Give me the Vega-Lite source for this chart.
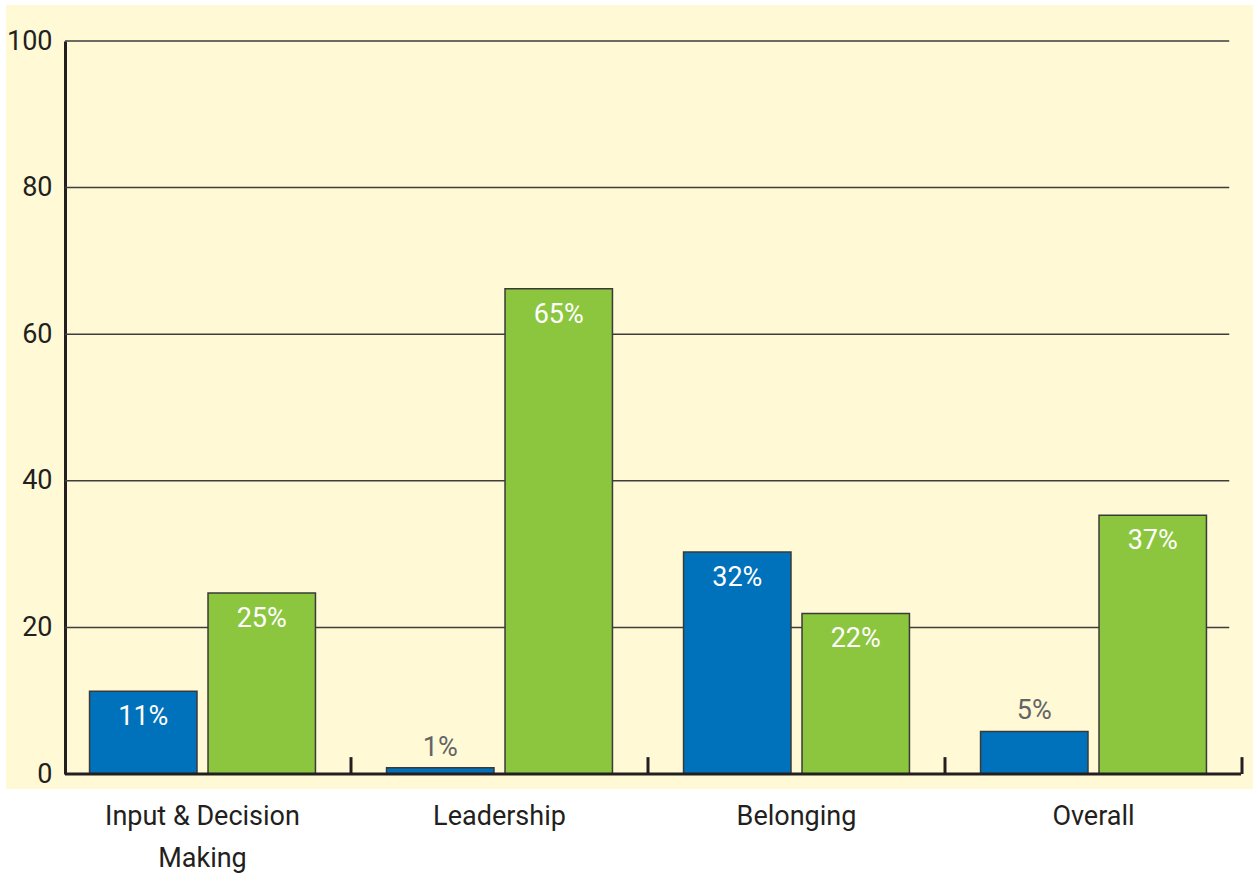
{
  "$schema": "https://vega.github.io/schema/vega-lite/v6.json",
  "width": 1247,
  "height": 784,
  "autosize": {"type": "none"},
  "padding": {"left": 6, "top": 5, "right": 0, "bottom": 84},
  "background": "#ffffff",
  "config": {
    "view": {"fill": "#FFF9D6", "stroke": null},
    "font": "Roboto",
    "axis": {"labelFont": "Roboto"},
    "text": {"font": "Roboto"}
  },
  "datasets": {
    "bars": [
      {"category": "Input & Decision Making", "series": "Series 1", "value": 11.3, "label": "11%"},
      {"category": "Input & Decision Making", "series": "Series 2", "value": 24.7, "label": "25%"},
      {"category": "Leadership", "series": "Series 1", "value": 0.85, "label": "1%"},
      {"category": "Leadership", "series": "Series 2", "value": 66.2, "label": "65%"},
      {"category": "Belonging", "series": "Series 1", "value": 30.3, "label": "32%"},
      {"category": "Belonging", "series": "Series 2", "value": 21.9, "label": "22%"},
      {"category": "Overall", "series": "Series 1", "value": 5.8, "label": "5%"},
      {"category": "Overall", "series": "Series 2", "value": 35.3, "label": "37%"}
    ],
    "grid": [{"level": 20}, {"level": 40}, {"level": 60}, {"level": 80}, {"level": 100}],
    "base": [{"level": 0}],
    "cats": [
      {"category": "Input & Decision Making"},
      {"category": "Leadership"},
      {"category": "Belonging"},
      {"category": "Overall"}
    ]
  },
  "resolve": {"scale": {"x": "independent"}, "axis": {"x": "independent"}},
  "layer": [
    {
      "data": {"name": "grid"},
      "mark": {"type": "rule", "stroke": "#3d3d3d", "strokeWidth": 1.5},
      "encoding": {
        "y": {
          "field": "level", "type": "quantitative",
          "scale": {"domain": [0, 100], "range": [769, 36], "zero": true, "nice": false},
          "axis": {
            "title": null, "values": [0, 20, 40, 60, 80, 100], "grid": false, "ticks": false,
            "domainColor": "#231f20", "domainWidth": 3, "offset": -59,
            "labelFontSize": 27, "labelColor": "#231f20", "labelPadding": 13
          }
        },
        "x": {"datum": 0, "type": "quantitative", "scale": {"domain": [0, 100], "range": [59, 1235]}, "axis": null},
        "x2": {"datum": 99}
      }
    },
    {
      "layer": [
        {
          "data": {"name": "bars"},
          "mark": {"type": "bar", "stroke": "#3a3a3a", "strokeWidth": 1.5},
          "encoding": {
            "x": {
              "field": "category", "type": "nominal", "sort": null,
              "scale": {"domain": ["Input & Decision Making", "Leadership", "Belonging", "Overall"], "range": [48, 1236], "paddingInner": 0, "paddingOuter": 0},
              "axis": {
                "title": null, "domain": false, "ticks": false, "labelAngle": 0,
                "labelFontSize": 27, "labelColor": "#231f20", "labelPadding": 14, "labelLineHeight": 42, "labelLimit": 500,
                "labelExpr": "datum.value == 'Input & Decision Making' ? ['Input & Decision', 'Making'] : datum.value"
              }
            },
            "xOffset": {"field": "series", "type": "nominal", "scale": {"domain": ["Series 1", "Series 2"], "paddingInner": 0.093, "paddingOuter": 0.3}},
            "y": {"field": "value", "type": "quantitative"},
            "color": {"field": "series", "type": "nominal", "scale": {"domain": ["Series 1", "Series 2"], "range": ["#0071BB", "#8CC63F"]}, "legend": null}
          }
        },
        {
          "data": {"name": "cats"},
          "mark": {"type": "rule", "stroke": "#231f20", "strokeWidth": 3},
          "encoding": {
            "x": {"field": "category", "type": "nominal", "sort": null, "bandPosition": 1},
            "y": {"datum": 0, "type": "quantitative"},
            "y2": {"datum": 2.3}
          }
        },
        {
          "data": {"name": "bars"},
          "transform": [{"filter": "datum.value > 8"}],
          "mark": {"type": "text", "fontSize": 27, "color": "#ffffff", "baseline": "top", "dy": 13, "align": "center"},
          "encoding": {
            "x": {"field": "category", "type": "nominal", "sort": null},
            "xOffset": {"field": "series", "type": "nominal"},
            "y": {"field": "value", "type": "quantitative"},
            "text": {"field": "label"}
          }
        },
        {
          "data": {"name": "bars"},
          "transform": [{"filter": "datum.value <= 8"}],
          "mark": {"type": "text", "fontSize": 27, "color": "#636466", "baseline": "alphabetic", "dy": -12, "align": "center"},
          "encoding": {
            "x": {"field": "category", "type": "nominal", "sort": null},
            "xOffset": {"field": "series", "type": "nominal"},
            "y": {"field": "value", "type": "quantitative"},
            "text": {"field": "label"}
          }
        }
      ]
    },
    {
      "data": {"name": "base"},
      "mark": {"type": "rule", "stroke": "#231f20", "strokeWidth": 3},
      "encoding": {
        "y": {"field": "level", "type": "quantitative"},
        "x": {"datum": 0, "type": "quantitative", "scale": {"domain": [0, 100], "range": [59, 1235]}, "axis": null},
        "x2": {"datum": 100}
      }
    }
  ]
}
